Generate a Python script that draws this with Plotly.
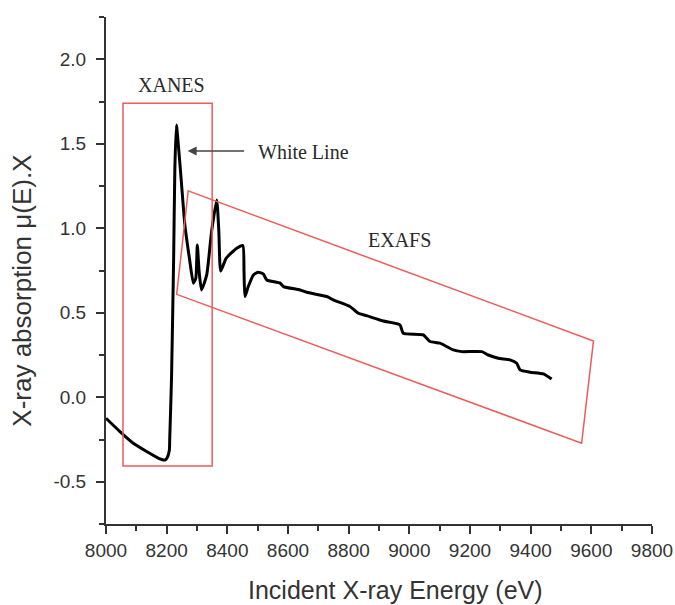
import plotly.graph_objects as go

# ---- data ----
energy_eV = [8000, 8046, 8090, 8134, 8178, 8189, 8195, 8202, 8209, 8210,
             8216, 8223, 8227, 8232,
             8244, 8260, 8275, 8288, 8296, 8301, 8307, 8315, 8332, 8348,
             8365, 8372, 8378, 8396, 8431, 8451, 8455, 8458, 8469, 8486,
             8502, 8519, 8530, 8574, 8585, 8640, 8662, 8728, 8749, 8804,
             8832, 8859, 8914, 8969, 8980, 9046, 9068, 9101, 9145, 9173,
             9239, 9260, 9293, 9332, 9354, 9365, 9398, 9442, 9469]
absorption = [-0.124, -0.203, -0.272, -0.321, -0.365, -0.371, -0.371, -0.357, -0.312, -0.253,
              0.112, 0.822, 1.355, 1.611,
              1.375, 1.020, 0.822, 0.675, 0.704, 0.901, 0.744, 0.635, 0.724, 0.980,
              1.167, 0.980, 0.747, 0.822, 0.882, 0.898, 0.744, 0.596, 0.655, 0.724,
              0.740, 0.728, 0.694, 0.675, 0.655, 0.635, 0.621, 0.596, 0.576, 0.537,
              0.497, 0.483, 0.451, 0.428, 0.379, 0.369, 0.330, 0.320, 0.280, 0.270,
              0.270, 0.250, 0.231, 0.221, 0.201, 0.162, 0.148, 0.138, 0.108]

x_ticks = [8000, 8200, 8400, 8600, 8800, 9000, 9200, 9400, 9600, 9800]
x_tick_labels = ["8000", "8200", "8400", "8600", "8800", "9000", "9200", "9400", "9600", "9800"]
y_ticks = [-0.5, 0.0, 0.5, 1.0, 1.5, 2.0]
y_tick_labels = ["-0.5", "0.0", "0.5", "1.0", "1.5", "2.0"]

x_title = "Incident X-ray Energy (eV)"
y_title = "X-ray absorption μ(E).X"

# region outlines (data coordinates)
xanes_box_x = [8056, 8350]
xanes_box_y = [-0.407, 1.740]
exafs_poly_x = [8271, 9607, 9568, 8233]
exafs_poly_y = [1.221, 0.333, -0.272, 0.609]

labels_text = ["XANES", "White Line", "EXAFS"]
labels_x = [8216, 8650, 8967]
labels_y = [1.849, 1.450, 0.931]
arrow_head = (8269, 1.457)

RED = "#ee5a5a"
AXC = "#333333"
SANS = "Liberation Sans, Arial, sans-serif"

fig = go.Figure()
fig.add_trace(go.Scatter(
    x=energy_eV, y=absorption, mode="lines",
    line=dict(color="black", width=3, shape="spline", smoothing=0.5),
    showlegend=False, hoverinfo="skip"))

fig.add_shape(type="rect", xref="x", yref="y",
              x0=xanes_box_x[0], x1=xanes_box_x[1],
              y0=xanes_box_y[0], y1=xanes_box_y[1],
              line=dict(color=RED, width=1.5))
path = "M " + " L ".join(f"{px},{py}" for px, py in zip(exafs_poly_x, exafs_poly_y)) + " Z"
fig.add_shape(type="path", xref="x", yref="y", path=path,
              line=dict(color=RED, width=1.5))

for t, lx, ly in zip(labels_text, labels_x, labels_y):
    fig.add_annotation(x=lx, y=ly, text=t, showarrow=False,
                       font=dict(family="Liberation Serif, Times New Roman, serif",
                                 size=20, color="#2a2a2a"))

fig.add_annotation(x=arrow_head[0], y=arrow_head[1], text="", showarrow=True,
                   ax=58, ay=0, axref="pixel", ayref="pixel",
                   arrowhead=2, arrowsize=1.2, arrowwidth=1.5, arrowcolor="#444444")

# axis titles placed as paper-anchored text
fig.add_annotation(xref="paper", yref="paper", x=0.531, y=-0.130,
                   xanchor="center", yanchor="middle", showarrow=False,
                   text=x_title, font=dict(family=SANS, size=25, color=AXC))
fig.add_annotation(xref="paper", yref="paper", x=-0.154, y=0.46,
                   xanchor="center", yanchor="middle", showarrow=False, textangle=-90,
                   text=y_title, font=dict(family=SANS, size=26, color=AXC))

axis_common = dict(
    showline=True, linecolor=AXC, linewidth=2,
    ticks="outside", ticklen=8, tickwidth=2, tickcolor=AXC,
    showgrid=False, zeroline=False, mirror=False,
    tickfont=dict(family=SANS, size=19, color=AXC),
)

fig.update_xaxes(range=[8000, 9800], tickvals=x_ticks, ticktext=x_tick_labels,
                 minor=dict(ticks="outside", ticklen=5, tickwidth=2, tickcolor=AXC, dtick=100),
                 **axis_common)
fig.update_yaxes(range=[-0.75, 2.25], tickvals=y_ticks, ticktext=y_tick_labels,
                 ticklabelstandoff=6,
                 minor=dict(ticks="outside", ticklen=5, tickwidth=2, tickcolor=AXC, dtick=0.25),
                 **axis_common)

fig.update_layout(
    width=675, height=605,
    margin=dict(l=106, r=23, t=17, b=81, autoexpand=False),
    paper_bgcolor="white", plot_bgcolor="white",
    showlegend=False,
)

fig.write_html("out.html")
